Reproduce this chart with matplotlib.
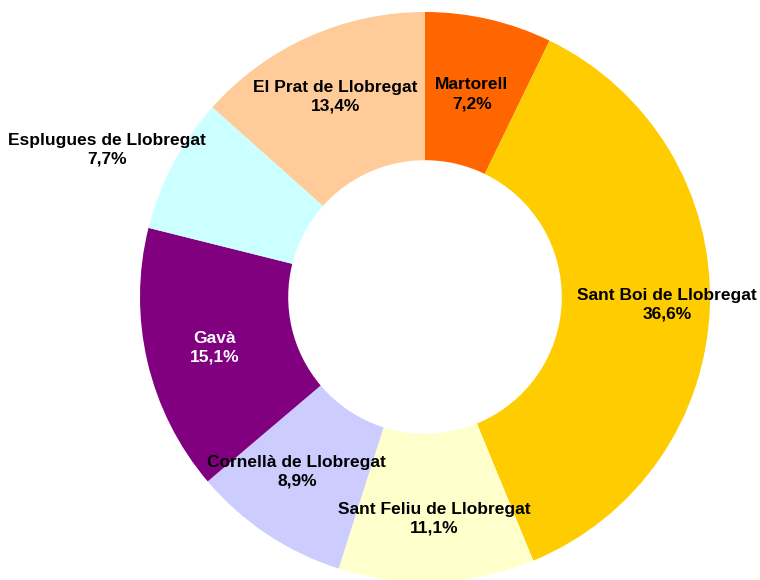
import numpy as np
import matplotlib.pyplot as plt

# datos (% por municipio), en el orden del gráfico: desde arriba, sentido horario
municipios = ['Martorell', 'Sant Boi de Llobregat', 'Sant Feliu de Llobregat',
              'Cornellà de Llobregat', 'Gavà', 'Esplugues de Llobregat',
              'El Prat de Llobregat']
porcentajes = [7.2, 36.6, 11.1, 8.9, 15.1, 7.7, 13.4]

colores = ['#FF6600', '#FFCC00', '#FFFFCC', '#CCCCFF', '#800080', '#CCFFFF', '#FFCC99']
color_texto = ['black', 'black', 'black', 'black', 'white', 'black', 'black']
# posición de las etiquetas: radio y desplazamiento angular (grados)
radio_etiqueta = [0.73, 0.85, 0.78, 0.76, 0.76, 1.23, 0.77]
giro_etiqueta = [0, 0, 0, -2.6, 0.5, 3.0, 0]

plt.rcParams['font.family'] = ['Liberation Sans', 'DejaVu Sans']

fig = plt.figure(figsize=(7.6, 5.8), dpi=100)
ax = fig.add_axes([0, 0, 1, 1])

wedges, _ = ax.pie(porcentajes, colors=colores, startangle=90, counterclock=False,
                   radius=1, wedgeprops=dict(width=0.52, linewidth=0))

total = sum(porcentajes)
acum = 0.0
for i, p in enumerate(porcentajes):
    medio = 90 - (acum + p / 2) / total * 360 + giro_etiqueta[i]
    acum += p
    ang = np.deg2rad(medio)
    r = radio_etiqueta[i]
    txt = municipios[i] + '\n' + ('%.1f%%' % p).replace('.', ',')
    ax.text(r * np.cos(ang), r * np.sin(ang), txt, ha='center', va='center',
            fontsize=12.5, fontweight='bold', color=color_texto[i], linespacing=1.3)

# centro del anillo en (425, 297) px, radio 285 px
R = 285.0
ax.set_xlim(-425 / R, (760 - 425) / R)
ax.set_ylim(-(580 - 297) / R, 297 / R)
ax.set_aspect('auto')
ax.axis('off')

plt.savefig('out.png', dpi=100)
